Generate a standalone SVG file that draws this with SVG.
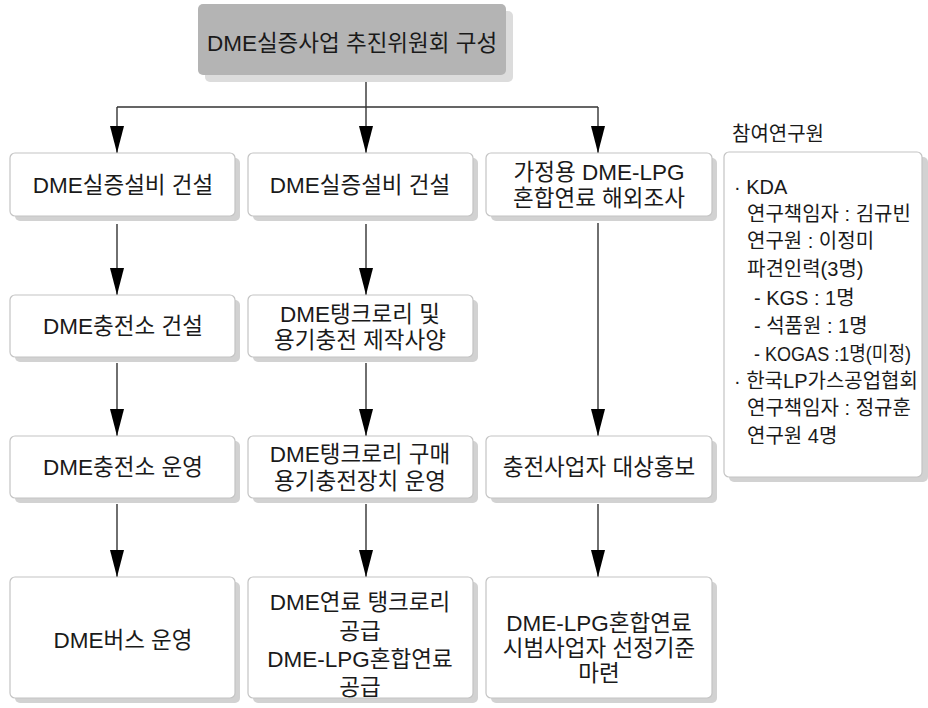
<svg xmlns="http://www.w3.org/2000/svg" width="928" height="708" viewBox="0 0 928 708">
<defs>
<style>
.box{fill:#ffffff;stroke:#c4c4c4;stroke-width:1.2}
.sh{fill:#d2d2d2}
.t{font-family:"Liberation Sans","Noto Sans CJK KR",sans-serif;font-size:22.5px;fill:#1a1a1a;text-anchor:middle}
.p{font-family:"Liberation Sans","Noto Sans CJK KR",sans-serif;font-size:20px;fill:#1a1a1a}
.ln{stroke:#333;stroke-width:1.4;fill:none}
</style>
<marker id="ah" viewBox="0 -7 27 14" markerWidth="27" markerHeight="14" refX="27" refY="0" orient="auto" markerUnits="userSpaceOnUse">
<path d="M0,-7 L27,0 L0,7 z" fill="#000"/>
</marker>
</defs>
<rect width="928" height="708" fill="#fff"/>

<g id="connectors">
<path class="ln" d="M366,80 V107 M117,107 H598"/>
<path class="ln" d="M117,107 V153" marker-end="url(#ah)"/>
<path class="ln" d="M366,107 V153" marker-end="url(#ah)"/>
<path class="ln" d="M598,107 V153" marker-end="url(#ah)"/>
<path class="ln" d="M117,224 V295" marker-end="url(#ah)"/>
<path class="ln" d="M366,224 V295" marker-end="url(#ah)"/>
<path class="ln" d="M117,363 V436" marker-end="url(#ah)"/>
<path class="ln" d="M366,363 V436" marker-end="url(#ah)"/>
<path class="ln" d="M598,223 V436" marker-end="url(#ah)"/>
<path class="ln" d="M117,504 V577" marker-end="url(#ah)"/>
<path class="ln" d="M366,504 V577" marker-end="url(#ah)"/>
<path class="ln" d="M598,504 V577" marker-end="url(#ah)"/>
</g>

<g id="top">
<rect x="205" y="11" width="308" height="71" rx="5" fill="#dcdcdc"/>
<rect x="198" y="4" width="308" height="71" rx="5" fill="#b4b4b4"/>
<text class="t" x="352" y="51">DME실증사업 추진위원회 구성</text>
</g>

<g id="c1r1">
<rect class="sh" x="15" y="158" width="225" height="63" rx="5"/>
<rect class="box" x="10" y="153" width="225" height="63" rx="5"/>
<text class="t" x="123" y="192.5">DME실증설비 건설</text>
</g>
<g id="c2r1">
<rect class="sh" x="253" y="158" width="225" height="63" rx="5"/>
<rect class="box" x="248" y="153" width="225" height="63" rx="5"/>
<text class="t" x="360" y="192.5">DME실증설비 건설</text>
</g>
<g id="c3r1">
<rect class="sh" x="491" y="158" width="226" height="63" rx="5"/>
<rect class="box" x="486" y="153" width="226" height="63" rx="5"/>
<text class="t" x="599" y="180">가정용 DME-LPG</text>
<text class="t" x="599" y="206">혼합연료 해외조사</text>
</g>

<g id="c1r2">
<rect class="sh" x="15" y="300" width="225" height="62" rx="5"/>
<rect class="box" x="10" y="295" width="225" height="62" rx="5"/>
<text class="t" x="123" y="334">DME충전소 건설</text>
</g>
<g id="c2r2">
<rect class="sh" x="253" y="300" width="225" height="62" rx="5"/>
<rect class="box" x="248" y="295" width="225" height="62" rx="5"/>
<text class="t" x="360" y="322">DME탱크로리 및</text>
<text class="t" x="360" y="348">용기충전 제작사양</text>
</g>

<g id="c1r3">
<rect class="sh" x="15" y="441" width="225" height="62" rx="5"/>
<rect class="box" x="10" y="436" width="225" height="62" rx="5"/>
<text class="t" x="123" y="475">DME충전소 운영</text>
</g>
<g id="c2r3">
<rect class="sh" x="253" y="441" width="225" height="62" rx="5"/>
<rect class="box" x="248" y="436" width="225" height="62" rx="5"/>
<text class="t" x="360" y="462">DME탱크로리 구매</text>
<text class="t" x="360" y="488.5">용기충전장치 운영</text>
</g>
<g id="c3r3">
<rect class="sh" x="491" y="441" width="226" height="62" rx="5"/>
<rect class="box" x="486" y="436" width="226" height="62" rx="5"/>
<text class="t" x="599" y="475">충전사업자 대상홍보</text>
</g>

<g id="c1r4">
<rect class="sh" x="15" y="582" width="225" height="121" rx="5"/>
<rect class="box" x="10" y="577" width="225" height="121" rx="5"/>
<text class="t" x="123" y="647.5">DME버스 운영</text>
</g>
<g id="c2r4">
<rect class="sh" x="253" y="582" width="225" height="121" rx="5"/>
<rect class="box" x="248" y="577" width="225" height="121" rx="5"/>
<text class="t" x="360" y="610">DME연료 탱크로리</text>
<text class="t" x="360" y="638.5">공급</text>
<text class="t" x="360" y="667">DME-LPG혼합연료</text>
<text class="t" x="360" y="695">공급</text>
</g>
<g id="c3r4">
<rect class="sh" x="491" y="582" width="226" height="121" rx="5"/>
<rect class="box" x="486" y="577" width="226" height="121" rx="5"/>
<text class="t" x="599" y="631">DME-LPG혼합연료</text>
<text class="t" x="599" y="656">시범사업자 선정기준</text>
<text class="t" x="599" y="681">마련</text>
</g>

<g id="panel">
<text class="p" x="732" y="140.5">참여연구원</text>
<rect class="sh" x="729" y="157" width="199" height="325" rx="5"/>
<rect class="box" x="724" y="152" width="198" height="325" rx="5"/>
<text class="p" x="734" y="193.5">· KDA</text>
<text class="p" x="747" y="220.5">연구책임자 : 김규빈</text>
<text class="p" x="747" y="248">연구원 : 이정미</text>
<text class="p" x="747" y="275.5">파견인력(3명)</text>
<text class="p" x="754" y="305">- KGS : 1명</text>
<text class="p" x="754" y="332.5">- 석품원 : 1명</text>
<text class="p" x="754" y="360.5" textLength="157" lengthAdjust="spacingAndGlyphs">- KOGAS :1명(미정)</text>
<text class="p" x="734" y="387.5">· 한국LP가스공업협회</text>
<text class="p" x="747" y="414.5">연구책임자 : 정규훈</text>
<text class="p" x="747" y="442.5">연구원 4명</text>
</g>
</svg>
